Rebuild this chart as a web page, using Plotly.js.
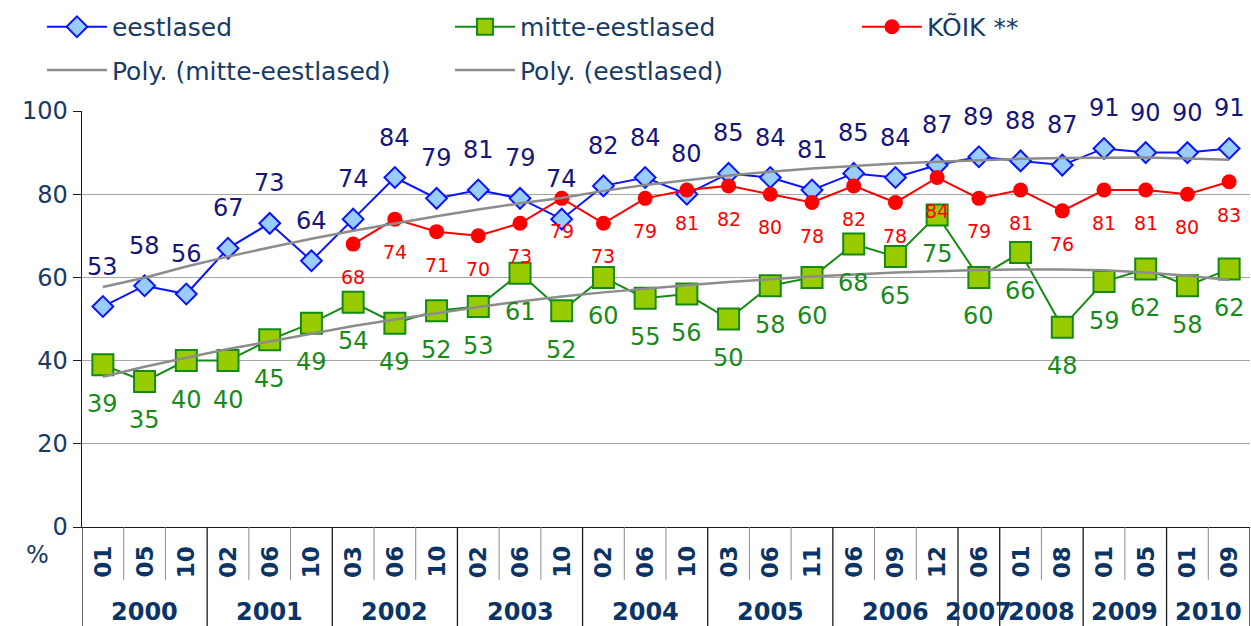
<!DOCTYPE html>
<html>
<head>
<meta charset="utf-8">
<script src="https://cdn.plot.ly/plotly-3.0.1.min.js"></script>
<style>html,body{margin:0;padding:0;background:#fff;}#chart{width:1251px;height:626px;}</style>
</head>
<body>
<div id="chart"></div>
<script>
// ---- data ----
const months = ['01','05','10','02','06','10','03','06','10','02','06','10','02','06','10','03','06','11','06','09','12','06','01','08','01','05','01','09'];
const years = ['2000','2001','2002','2003','2004','2005','2006','2007','2008','2009','2010'];
const yearCounts = [3,3,3,3,3,3,3,1,2,2,2];
const eestlased = [53,58,56,67,73,64,74,84,79,81,79,74,82,84,80,85,84,81,85,84,87,89,88,87,91,90,90,91];
const mitteEestlased = [39,35,40,40,45,49,54,49,52,53,61,52,60,55,56,50,58,60,68,65,75,60,66,48,59,62,58,62];
const koik = [null,null,null,null,null,null,68,74,71,70,73,79,73,79,81,82,80,78,82,78,84,79,81,76,81,81,80,83];
const polyEestlased = [57.7,59.9,62.6,65.0,67.2,69.3,71.2,73.0,74.7,76.3,77.8,79.1,80.8,82.2,83.4,84.5,85.4,86.2,86.8,87.4,87.8,88.2,88.5,88.7,88.8,88.8,88.6,88.3];
const polyMitte = [36.1,38.5,40.7,42.8,44.6,46.4,48.3,49.9,51.4,52.9,54.2,55.4,56.4,57.3,58.1,58.9,59.6,60.2,60.7,61.2,61.5,61.8,61.9,61.9,61.7,61.2,60.4,59.4];

const xs = months.map((_, i) => i);
const FONT = 'DejaVu Sans, Verdana, sans-serif';
const NAVY = '#173a66';

const traces = [
  {name:'eestlased', x:xs, y:eestlased, mode:'lines+markers', legend:'legend',
   line:{color:'#0a14ff', width:2},
   marker:{symbol:'diamond', size:16, color:'#99ccff', line:{color:'#0a14ff', width:2}}},
  {name:'mitte-eestlased', x:xs, y:mitteEestlased, mode:'lines+markers', legend:'legend',
   line:{color:'#138a13', width:2},
   marker:{symbol:'square', size:21, color:'#99cc00', line:{color:'#138a13', width:2}}},
  {name:'KÕIK **', x:xs, y:koik, mode:'lines+markers', legend:'legend3', connectgaps:false,
   line:{color:'#ff0000', width:2},
   marker:{symbol:'circle', size:15, color:'#ff0000'}},
  {name:'Poly. (mitte-eestlased)', x:xs, y:polyMitte, mode:'lines', legend:'legend2',
   line:{color:'#8c8c8c', width:2.5}},
  {name:'Poly. (eestlased)', x:xs, y:polyEestlased, mode:'lines', legend:'legend2',
   line:{color:'#8c8c8c', width:2.5}}
];

const annotations = [];
eestlased.forEach((v, i) => annotations.push({x:i, y:v, xref:'x', yref:'y', text:String(v), showarrow:false,
  yshift:40, font:{family:FONT, size:24, color:'#15157a'}}));
mitteEestlased.forEach((v, i) => annotations.push({x:i, y:v, xref:'x', yref:'y', text:String(v), showarrow:false,
  yshift:-39, font:{family:FONT, size:24, color:'#1a8a1a'}}));
koik.forEach((v, i) => { if (v !== null) annotations.push({x:i, y:v, xref:'x', yref:'y', text:String(v), showarrow:false,
  yshift:-33, font:{family:FONT, size:19, color:'#ff0000'}}); });

// month labels
months.forEach((m, i) => annotations.push({x:i, y:-0.084, xref:'x', yref:'paper', text:'<b>' + m + '</b>', showarrow:false,
  textangle:-90, yanchor:'middle', xanchor:'center', font:{family:FONT, size:23, color:'#0b3466'}}));
// year labels + separators
const shapes = [];
let start = 0;
const boundaries = new Set();
years.forEach((yr, k) => {
  const n = yearCounts[k];
  annotations.push({x:start + (n - 1) / 2, y:-0.204, xref:'x', yref:'paper', text:'<b>' + yr + '</b>', showarrow:false,
    yanchor:'middle', xanchor:'center', font:{family:FONT, size:24, color:'#0b3466'}});
  boundaries.add(start);
  start += n;
});
for (let i = 0; i <= months.length; i++) {
  const isYear = boundaries.has(i) || i === months.length;
  shapes.push({type:'line', xref:'x', yref:'paper', x0:i - 0.5, x1:i - 0.5, y0:0, y1:isYear ? -0.245 : -0.127,
    line:{color:isYear ? '#1a1a1a' : '#8a8a8a', width:isYear ? 1.3 : 1}});
}
annotations.push({x:-0.0385, y:-0.067, xref:'paper', yref:'paper', text:'%', showarrow:false,
  xanchor:'center', yanchor:'middle', font:{family:FONT, size:24, color:NAVY}});

const legendBase = {orientation:'h', xanchor:'left', yanchor:'middle', x:-0.0343,
  font:{family:FONT, size:25, color:NAVY}, itemwidth:60, entrywidth:333, entrywidthmode:'pixels',
  bgcolor:'rgba(0,0,0,0)', traceorder:'normal', itemclick:false};

const layout = {
  width:1251, height:626,
  margin:{l:82, r:1, t:111, b:99},
  paper_bgcolor:'#ffffff', plot_bgcolor:'#ffffff',
  showlegend:true,
  legend:Object.assign({}, legendBase, {y:1.202}),
  legend2:Object.assign({}, legendBase, {y:1.098}),
  legend3:Object.assign({}, legendBase, {y:1.202, x:0.6635, entrywidth:150}),
  xaxis:{range:[-0.5, months.length - 0.5], showgrid:false, zeroline:false, showticklabels:false,
    ticks:'', showline:true, linecolor:'#1a1a1a', linewidth:1.3, fixedrange:true},
  yaxis:{range:[0, 100], dtick:20, tick0:0, showgrid:true, gridcolor:'#a6a6a6', gridwidth:1, zeroline:false,
    showline:true, linecolor:'#1a1a1a', linewidth:1.3, ticks:'outside', ticklen:8, tickcolor:'#1a1a1a',
    tickfont:{family:FONT, size:24, color:NAVY}, fixedrange:true},
  annotations:annotations,
  shapes:shapes
};

Plotly.newPlot('chart', traces, layout, {displayModeBar:false, staticPlot:true});
</script>
</body>
</html>
